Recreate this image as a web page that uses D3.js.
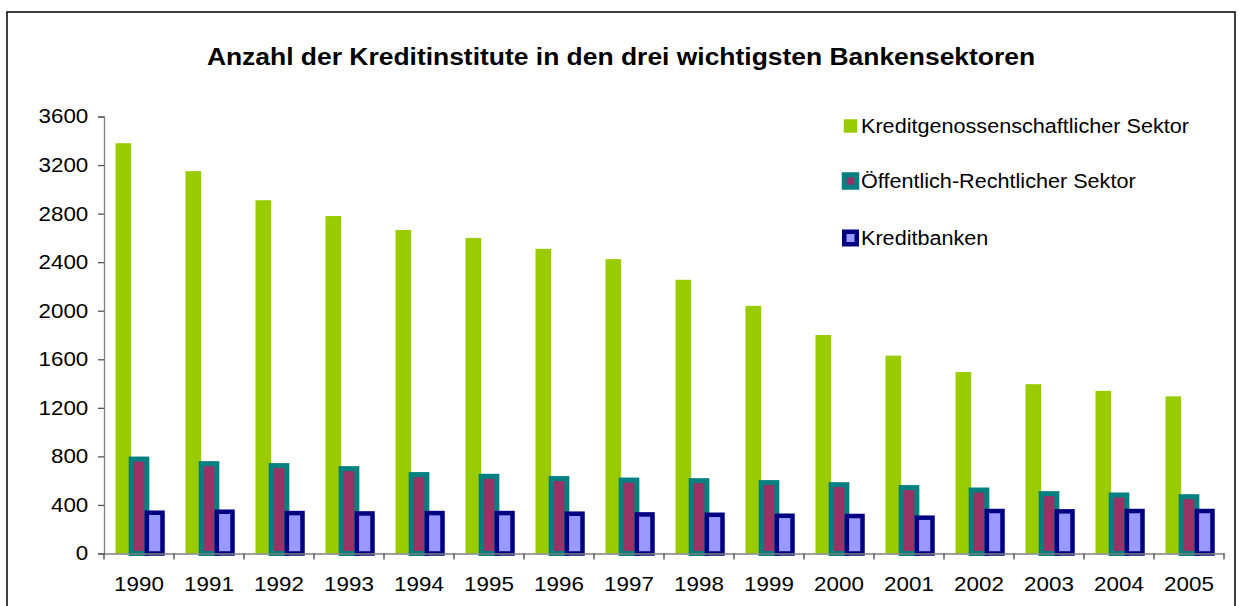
<!DOCTYPE html>
<html>
<head>
<meta charset="utf-8">
<script src="https://cdn.jsdelivr.net/npm/d3@7"></script>
<style>
  body { margin: 0; background: #fff; }
  text { font-family: 'Liberation Sans', Arial, sans-serif; }
</style>
</head>
<body>
<script>
const width = 1239;
const height = 606;

// data
const years = ['1990', '1991', '1992', '1993', '1994', '1995', '1996', '1997',
  '1998', '1999', '2000', '2001', '2002', '2003', '2004', '2005'];
const kreditgenossen = [3380, 3150, 2910, 2780, 2665, 2600, 2510, 2425,
  2255, 2040, 1800, 1630, 1495, 1395, 1340, 1295];
const oeffentlich = [778, 740, 724, 699, 650, 636, 617, 605,
  600, 584, 567, 543, 523, 493, 482, 468];
const kreditbanken = [336, 344, 333, 330, 333, 333, 328, 322,
  319, 311, 309, 295, 350, 347, 350, 350];
const yTicks = [0, 400, 800, 1200, 1600, 2000, 2400, 2800, 3200, 3600];

const series = [
  { name: 'Kreditgenossenschaftlicher Sektor', values: kreditgenossen, fill: '#99cc00', stroke: 'none', sw: 0, legendY: 126 },
  { name: 'Öffentlich-Rechtlicher Sektor', values: oeffentlich, fill: '#993366', stroke: '#008080', sw: 5, legendY: 181 },
  { name: 'Kreditbanken', values: kreditbanken, fill: '#9999ff', stroke: '#000080', sw: 4.5, legendY: 238 },
];

// the original text is a bit wider than Arial at the same height
const stretch = 1.12;

const svg = d3.select('body')
  .append('svg')
  .attr('width', width)
  .attr('height', height);

svg.append('rect')
  .attr('width', width)
  .attr('height', height)
  .attr('fill', '#fff');

// chart frame
svg.append('rect')
  .attr('x', 7)
  .attr('y', 12)
  .attr('width', 1228)
  .attr('height', 640)
  .attr('fill', 'none')
  .attr('stroke', '#000')
  .attr('stroke-width', 1.5);

// title
svg.append('text')
  .attr('transform', `translate(621,64.5) scale(1.135,1)`)
  .attr('text-anchor', 'middle')
  .attr('font-size', '23.3px')
  .attr('font-weight', 'bold')
  .attr('fill', '#000')
  .text('Anzahl der Kreditinstitute in den drei wichtigsten Bankensektoren');

const x0 = d3.scaleBand().domain(years).range([104, 1224]).padding(0);
const x1 = d3.scaleBand().domain(series.map(d => d.name)).range([11.5, 58.5]).padding(0);
const y = d3.scaleLinear().domain([0, 3600]).range([553.5, 116.5]);

// bars, drawn series by series so later borders lie on top
series.forEach(s => {
  svg.append('g')
    .selectAll('rect')
    .data(s.values)
    .join('rect')
    .attr('x', (d, i) => x0(years[i]) + x1(s.name))
    .attr('y', d => y(d))
    .attr('width', x1.bandwidth())
    .attr('height', d => y(0) - y(d))
    .attr('fill', s.fill)
    .attr('stroke', s.stroke)
    .attr('stroke-width', s.sw);
});

// y axis
const yAxis = svg.append('g')
  .attr('transform', 'translate(104,0)')
  .call(d3.axisLeft(y).tickValues(yTicks).tickSize(6).tickPadding(8).tickFormat(d3.format('d')));
yAxis.select('.domain').attr('stroke', '#808080').attr('stroke-width', 1.3);
yAxis.selectAll('.tick line').attr('stroke', '#555').attr('stroke-width', 1.3);
yAxis.selectAll('.tick text')
  .attr('font-size', '20px')
  .attr('fill', '#000')
  .attr('transform', `scale(${stretch},1)`)
  .style('font-family', "'Liberation Sans', Arial, sans-serif");

// x axis
const xAxis = svg.append('g')
  .attr('transform', `translate(0,${y(0)})`)
  .call(d3.axisBottom(x0).tickSize(0).tickPadding(23));
xAxis.select('.domain').attr('stroke', '#808080').attr('stroke-width', 1.5);
xAxis.selectAll('.tick text')
  .attr('font-size', '20px')
  .attr('fill', '#000')
  .attr('transform', `scale(${stretch},1)`)
  .style('font-family', "'Liberation Sans', Arial, sans-serif");

// tick marks between categories
svg.append('g')
  .selectAll('line')
  .data(years.concat(['end']))
  .join('line')
  .attr('x1', (d, i) => i < years.length ? x0(d) : x0.range()[1])
  .attr('x2', (d, i) => i < years.length ? x0(d) : x0.range()[1])
  .attr('y1', y(0))
  .attr('y2', y(0) + 6)
  .attr('stroke', '#444')
  .attr('stroke-width', 1.3);

// legend
const legend = svg.append('g');
series.forEach(s => {
  const size = s.sw ? 12.5 : 13.5;
  legend.append('rect')
    .attr('x', 850.5 - size / 2)
    .attr('y', s.legendY - size / 2)
    .attr('width', size)
    .attr('height', size)
    .attr('fill', s.fill)
    .attr('stroke', s.stroke)
    .attr('stroke-width', s.sw);
  legend.append('text')
    .attr('transform', `translate(861,${s.legendY}) scale(1.03,1)`)
    .attr('dy', '0.35em')
    .attr('font-size', '21px')
    .attr('fill', '#000')
    .text(s.name);
});
</script>
</body>
</html>
